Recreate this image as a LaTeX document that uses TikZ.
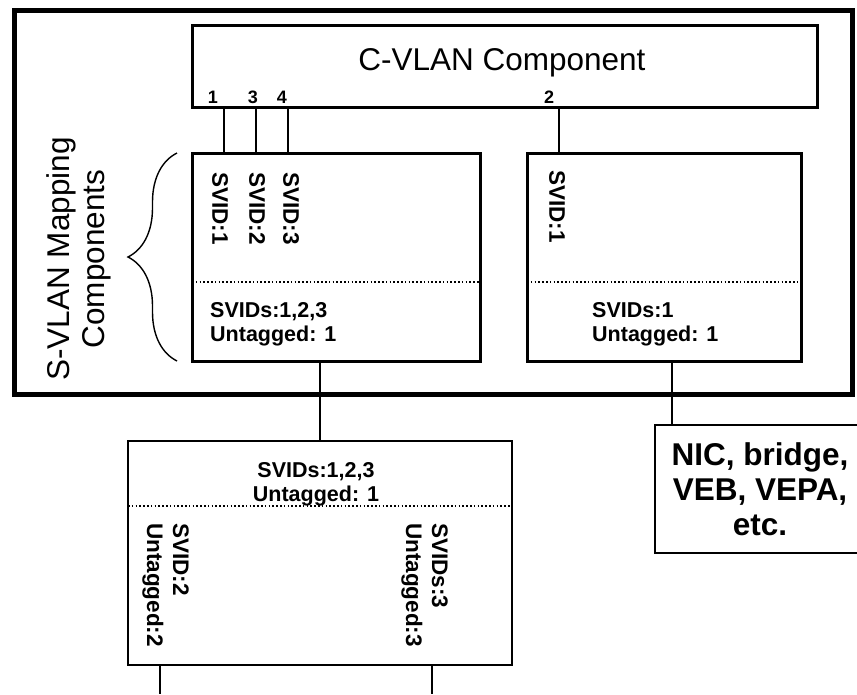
\documentclass[tikz,border=0pt]{standalone}
\usepackage{fontspec}
\setmainfont{Liberation Sans}
\usetikzlibrary{positioning,calc,decorations.pathreplacing}
\tikzset{shell/.style={draw,line width=5pt,outer sep=0pt,inner sep=0pt,anchor=north west},comp/.style={draw,line width=3pt,outer sep=0pt,inner sep=0pt,anchor=north west},thinbox/.style={draw,line width=2pt,outer sep=0pt,inner sep=0pt,anchor=north west},wire/.style={line width=2pt},divider/.style={line width=1.6pt,dash pattern=on 1.6pt off 2.2pt},bigtext/.style={font=\fontsize{31.5}{35}\selectfont,inner sep=0pt},bigbold/.style={font=\fontsize{31.5}{35}\selectfont\bfseries},tag/.style={font=\fontsize{21.5}{24}\selectfont\bfseries,inner sep=0pt,align=left},vtag/.style={tag,font=\fontsize{22.5}{26}\selectfont\bfseries,rotate=-90},port/.style={font=\fontsize{18}{20}\selectfont\bfseries,inner sep=0pt},curly/.style={decorate,decoration={brace,amplitude=49pt},line width=1.4pt}}
\begin{document}
\begin{tikzpicture}[x=1pt,y=-1pt]
\useasboundingbox (0,0) rectangle (857,694);\clip (0,0) rectangle (857,694);
\node[shell,minimum width=838pt,minimum height=384pt] (station) at (14,10) {};
\node[comp,minimum width=625pt,minimum height=82pt] (cvlan) at (192,25) {};
\node[bigtext,anchor=base] (cvtitle) at (502,70) {C-VLAN Component};
\node[comp,minimum width=288pt,minimum height=208pt] (mapA) at (192,153) {};
\node[comp,minimum width=274pt,minimum height=208pt] (mapB) at (527,153) {};
\node[thinbox,minimum width=384pt,minimum height=224pt] (edge) at (128,441) {};
\node[thinbox,bigbold,align=center,minimum width=210pt,minimum height=128pt] (nic) at (655,425) {NIC, bridge,\\VEB, VEPA,\\etc.};
\draw[divider] (192,282)--(480,282);\draw[divider] (527,282)--(801,282);\draw[divider] (128,506)--(512,506);
\node[port] (n1) at (213,97) {1};\node[port] (n3) at (253,97) {3};\node[port] (n4) at (282,97) {4};\node[port] (n2) at (549,97) {2};
\coordinate (c1) at ([xshift=32pt]cvlan.south west);\coordinate (c3) at ([xshift=64pt]cvlan.south west);\coordinate (c4) at ([xshift=96pt]cvlan.south west);\coordinate (c2) at ([xshift=367pt]cvlan.south west);
\foreach \c in {c1,c3,c4} \draw[wire] (\c)--(\c |- mapA.north);
\draw[wire] (c2)--(c2 |- mapB.north);
\node[vtag,anchor=west] (sa1) at (220,172) {SVID:1};\node[vtag,anchor=west] (sa2) at (257,172) {SVID:2};\node[vtag,anchor=west] (sa3) at (291,172) {SVID:3};
\node[vtag,anchor=west] (sb1) at (557,170) {SVID:1};
\node[tag,anchor=north west] (tagA) at (210,302) {SVIDs:1,2,3\\Untagged: 1};
\node[tag,anchor=north west] (tagB) at (592,302) {SVIDs:1\\Untagged: 1};
\node[tag,align=center,anchor=north] (tagE) at (316,462) {SVIDs:1,2,3\\Untagged: 1};
\node[vtag,anchor=north west] (e2) at (189,523) {SVID:2\\Untagged:2};
\node[vtag,anchor=north west] (e3) at (448,523) {SVIDs:3\\Untagged:3};
\draw[curly] (177,361)--(177,153);
\node[bigtext,align=center,rotate=90] (maplabel) at (79,259) {S-VLAN Mapping\\Components};
\coordinate (dA) at ([xshift=-16pt]mapA.south);\coordinate (dB) at ([xshift=8pt]mapB.south);
\draw[wire] (dA)--(dA |- edge.north);\draw[wire] (dB)--(dB |- nic.north);
\coordinate (o2) at (160,694);\coordinate (o3) at (432,694);
\draw[wire] (o2 |- edge.south)--(o2);\draw[wire] (o3 |- edge.south)--(o3);
\end{tikzpicture}
\end{document}
